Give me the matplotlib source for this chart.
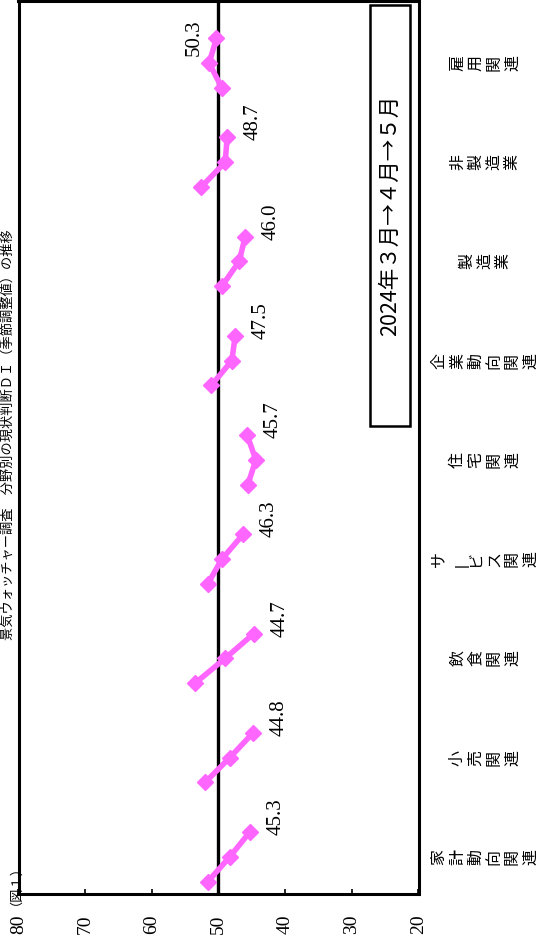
import numpy as np
import matplotlib
matplotlib.use('Agg')
from matplotlib import pyplot as plt
from matplotlib.patches import Rectangle
import matplotlib.transforms as mtransforms

plt.rcParams['font.family'] = ['Liberation Serif', 'Noto Sans CJK JP']

categories = ['家計動向関連', '小売関連', '飲食関連', 'サービス関連', '住宅関連',
              '企業動向関連', '製造業', '非製造業', '雇用関連']
mar = [51.6, 52.0, 53.5, 51.6, 45.6, 51.1, 49.5, 52.6, 49.5]
apr = [48.3, 48.3, 49.0, 49.5, 44.4, 48.0, 46.9, 49.0, 51.4]
may = [45.3, 44.8, 44.7, 46.3, 45.7, 47.5, 46.0, 48.7, 50.3]
xticks = [80, 70, 60, 50, 40, 30, 20]
legend_text = '2024年３月→４月→５月'
fig_no = '（図１）'
title = '景気ウォッチャー調査　分野別の現状判断ＤＩ（季節調整値）の推移'

pink = '#ff66ff'
W, H = 555, 946
fig = plt.figure(figsize=(W / 100, H / 100), dpi=100)
ax = fig.add_axes([18.5 / W, 1 - 894 / H, 400 / W, 893 / H])

# value axis runs 80 -> 20 from left to right, categories stacked upward
slots = 4
for i in range(len(categories)):
    pos = slots * i + np.arange(3)
    vals = [mar[i], apr[i], may[i]]
    ax.plot(vals, pos, color=pink, lw=4, marker='D', ms=8, mec=pink, mfc=pink,
            solid_joinstyle='miter', zorder=3)
    off = (-22, -18) if i == len(categories) - 1 else (26, -3)
    ax.annotate(f'{may[i]:.1f}', (may[i], pos[2]), xytext=off,
                textcoords='offset pixels', rotation=90, ha='center', va='bottom',
                fontsize=15)

ax.axvline(50, color='black', lw=2.4, zorder=2)
ax.set_xlim(80, 20)
ax.set_ylim(-0.5, slots * len(categories) - 0.5)
ax.set_xticks(xticks)
ax.set_xticklabels([str(t) for t in xticks], rotation=90, fontsize=14)
ax.set_yticks([])
ax.tick_params(axis='x', direction='in', length=3.6, width=1.2, pad=15)
for s in ax.spines.values():
    s.set_linewidth(2.2)

# category labels to the right (vertical text, rotated)
trans = mtransforms.blended_transform_factory(ax.transAxes, ax.transData)
for i, c in enumerate(categories):
    txt = '\n'.join(c.replace('ー', '丨'))
    ax.text(1.166, slots * i + 1, txt, transform=trans, rotation=90,
            ha='center', va='center', fontsize=11.5, linespacing=1.1,
            family='Noto Sans CJK JP', clip_on=False)

# legend box
ax.add_patch(Rectangle((0.879, 0.524), 0.1, 0.4715, transform=ax.transAxes,
                       fill=False, ec='black', lw=1.8, zorder=4))
ax.text(0.929, 0.76, legend_text, transform=ax.transAxes, rotation=90,
        ha='center', va='center', fontsize=15.5, family='Noto Sans CJK JP')

fig.text(16 / W, 1 - 905 / H, fig_no, rotation=90, ha='right', va='bottom', fontsize=9.5)
fig.text(16 / W, 1 - 640 / H, title, rotation=90, ha='right', va='bottom', fontsize=9.5)

fig.savefig('out.png', dpi=100)
